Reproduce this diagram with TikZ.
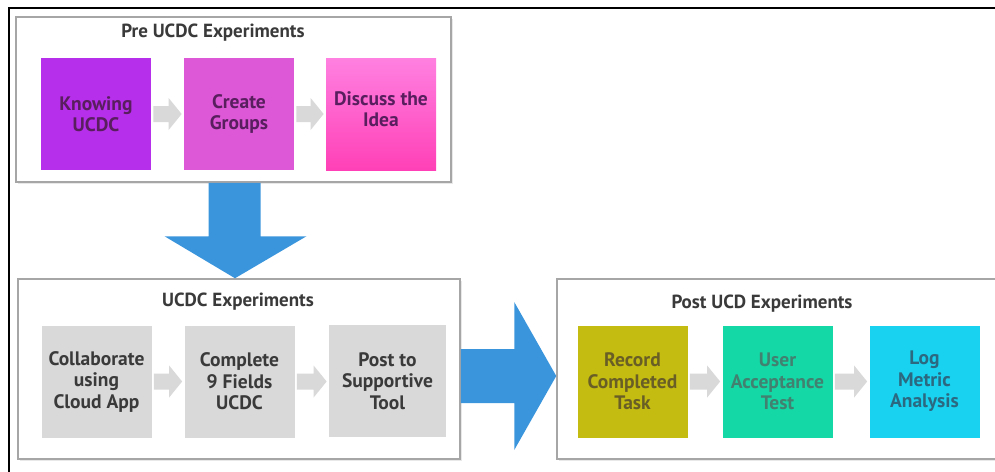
\documentclass[tikz,border=0pt]{standalone}
\usepackage{fontspec}
\setmainfont{PT Sans}
\usepackage{tikz}
\usetikzlibrary{shadows,calc}
\definecolor{boxLine}{RGB}{166,166,166}
\definecolor{stepGray}{RGB}{217,217,217}
\definecolor{flowBlue}{RGB}{58,149,220}
\definecolor{knowFill}{RGB}{182,47,234}
\definecolor{createFill}{RGB}{220,88,214}
\definecolor{discussTop}{RGB}{255,128,224}
\definecolor{discussBot}{RGB}{255,64,182}
\definecolor{recordFill}{RGB}{196,188,16}
\definecolor{userFill}{RGB}{20,216,166}
\definecolor{logFill}{RGB}{24,210,239}
\definecolor{preText}{RGB}{88,30,94}
\definecolor{grayText}{RGB}{58,58,58}
\definecolor{recordText}{RGB}{105,95,38}
\definecolor{userText}{RGB}{66,128,112}
\definecolor{logText}{RGB}{44,104,128}
\tikzset{every picture/.style={line width=0.75pt}}

% small grey arrow filling the gap between two boxes
\newcommand\stepArrow[2]{%
  \fill[stepGray] let \p1=(#1.east), \p2=(#2.west) in
    (\x1+2pt,\y1+8pt) -- (\x2-15pt,\y1+8pt) -- (\x2-15pt,\y1+16pt) -- (\x2-2pt,\y1)
    -- (\x2-15pt,\y1-16pt) -- (\x2-15pt,\y1-8pt) -- (\x1+2pt,\y1-8pt) -- cycle;}

\begin{document}
\begin{tikzpicture}[x=1pt,y=-1pt,
  group/.style={draw=boxLine, line width=1.5pt, fill=white, rectangle,
    drop shadow={opacity=0.18, shadow xshift=1.5pt, shadow yshift=-1.5pt}},
  grouptitle/.style={text=grayText, font=\fontsize{19}{22}\selectfont\bfseries},
  stepbox/.style={rectangle, minimum width=110pt, minimum height=112pt, inner sep=0pt,
    align=center, font=\fontsize{19.5}{21.5}\selectfont\bfseries}]
	\clip (0,0) rectangle (995,471);
	
	%frame
	\draw [line width=2pt] (9,480) -- (9,8) -- (1000,8) ;
	
	% Pre UCDC
	\node [group, minimum width=435pt, minimum height=165pt] (pre) at (233.5,99.5) {};
	\node [grouptitle] (preTitle) at (213,33) {Pre UCDC Experiments};
	\node [stepbox, fill=knowFill, text=preText] (know) at (96,114) {Knowing\\UCDC};
	\node [stepbox, fill=createFill, text=preText] (create) at (239,114) {Create\\Groups};
	\node [stepbox, top color=discussTop, bottom color=discussBot, text=preText, text depth=11pt] (discuss) at (381,114.5) {Discuss the\\Idea};
	
	% UCDC
	\node [group, minimum width=442pt, minimum height=180pt] (ucdc) at (239,369) {};
	\node [grouptitle] (ucdcTitle) at (238,302) {UCDC Experiments};
	\node [stepbox, fill=stepGray, text=grayText] (collab) at (96.5,381.5) {Collaborate\\using\\Cloud App};
	\node [stepbox, fill=stepGray, text=grayText] (fields) at (239.5,381.5) {Complete\\9 Fields\\UCDC};
	\node [stepbox, fill=stepGray, text=grayText, minimum width=117pt] (posting) at (387.5,381) {Post to\\Supportive\\Tool};
	
	% Post UCD
	\node [group, minimum width=443pt, minimum height=180pt] (post) at (778.5,369) {};
	\node [grouptitle] (postTitle) at (762,304) {Post UCD Experiments};
	\node [stepbox, fill=recordFill, text=recordText] (record) at (632.5,381.5) {Record\\Completed\\Task};
	\node [stepbox, fill=userFill, text=userText] (accept) at (777.5,381.5) {User\\Acceptance\\Test};
	\node [stepbox, fill=logFill, text=logText] (logm) at (924.5,381.5) {Log\\Metric\\Analysis};
	
	% grey step arrows
	\stepArrow{know}{create}
	\stepArrow{create}{discuss}
	\stepArrow{collab}{fields}
	\stepArrow{fields}{posting}
	\stepArrow{record}{accept}
	\stepArrow{accept}{logm}
	
	% big blue arrows
	\fill [flowBlue] let \p1=(pre.south), \p2=(ucdc.north) in
		(\x1-25pt,\y1) -- (\x1+27pt,\y1) -- (\x1+27pt,\y2+42pt) -- (\x1+73pt,\y2+42pt)
		-- (\x1+1.5pt,\y2) -- (\x1-69pt,\y2+42pt) -- (\x1-25pt,\y2+42pt) -- cycle ;
	\fill [flowBlue] let \p1=(ucdc.east), \p2=(post.west) in
		(\x1,\y1-7pt+27pt) -- (\x2-42pt,\y1-7pt+27pt) -- (\x2-42pt,\y1-7pt+74pt)
		-- (\x2,\y1-7pt) -- (\x2-42pt,\y1-7pt-74pt) -- (\x2-42pt,\y1-7pt-27pt)
		-- (\x1,\y1-7pt-27pt) -- cycle ;
\end{tikzpicture}
\end{document}
